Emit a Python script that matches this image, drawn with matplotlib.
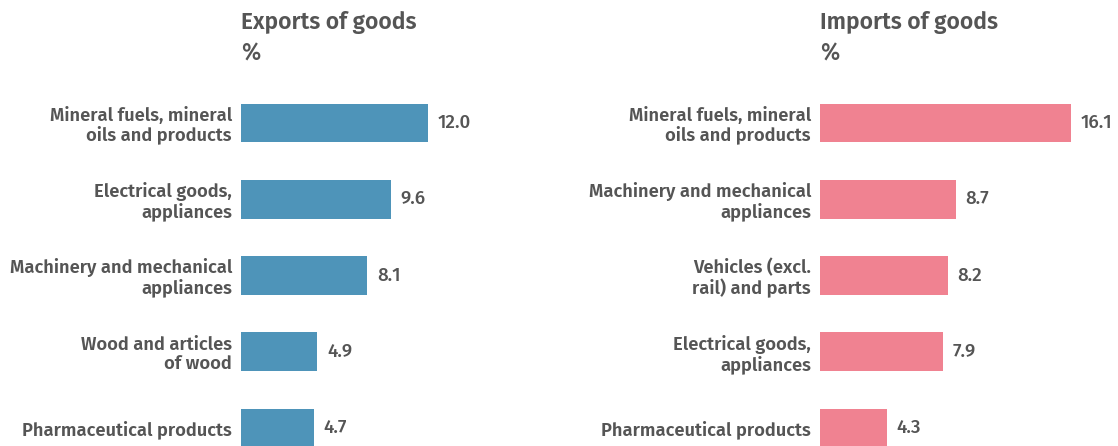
import matplotlib.pyplot as plt

# Datos
exp_cats = ["Mineral fuels, mineral\noils and products", "Electrical goods,\nappliances",
            "Machinery and mechanical\nappliances", "Wood and articles\nof wood",
            "Pharmaceutical products"]
exp_vals = [12.0, 9.6, 8.1, 4.9, 4.7]
imp_cats = ["Mineral fuels, mineral\noils and products", "Machinery and mechanical\nappliances",
            "Vehicles (excl.\nrail) and parts", "Electrical goods,\nappliances",
            "Pharmaceutical products"]
imp_vals = [16.1, 8.7, 8.2, 7.9, 4.3]

plt.rcParams['font.family'] = ['Fira Sans', 'Noto Sans', 'DejaVu Sans']
W, H = 1118, 446
fig = plt.figure(figsize=(W/100, H/100), dpi=100)
gris = "#555555"

def panel(x0, x1, cats, vals, color, title):
    ax = fig.add_axes([x0/W, 0, (x1-x0)/W, 350/H])
    y = list(range(len(vals)))
    ax.barh(y, vals, height=0.51, color=color)
    ax.set_xlim(0, (x1-x0)/15.6)
    ax.set_ylim(4.236, -0.354)
    ax.set_yticks(y)
    ax.set_yticklabels(cats, fontsize=13.2, color=gris, fontweight=600, linespacing=1.08)
    ax.tick_params(axis='y', length=0, pad=6.5)
    ax.set_xticks([])
    for s in ax.spines.values():
        s.set_visible(False)
    for i, v in enumerate(vals):
        ax.annotate("{:.1f}".format(v), (v, i), xytext=(6.8, 0), textcoords="offset points",
                    va="center", ha="left", fontsize=13.5, color=gris, fontweight=500)
    fig.text(x0/W, 1 - 22/H, title, fontsize=16.4, color=gris, fontweight=600, va="center")
    fig.text(x0/W, 1 - 54/H, "%", fontsize=16.4, color=gris, fontweight=500, va="center")

panel(241, 560, exp_cats, exp_vals, "#4E94B9", "Exports of goods")
panel(820, 1118, imp_cats, imp_vals, "#F08291", "Imports of goods")

fig.savefig("out.png", dpi=100)
